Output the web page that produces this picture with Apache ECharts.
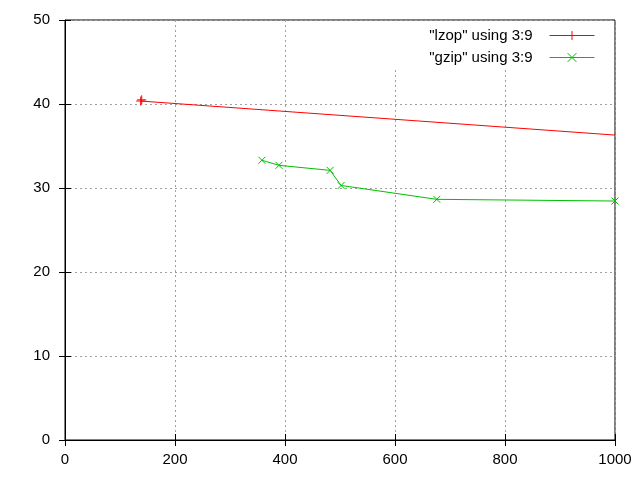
<!DOCTYPE html>
<html>
<head>
<meta charset="utf-8">
<script src="https://cdn.jsdelivr.net/npm/echarts@6/dist/echarts.min.js"></script>
<style>html,body{margin:0;padding:0;background:#fff}#c{width:640px;height:480px}</style>
</head>
<body>
<div id="c"></div>
<script>
const lzopX = [137.6, 139.5, 1000];
const lzopY = [40.35, 40.5, 36.3];
const gzipX = [358, 389, 482, 502, 676, 1000];
const gzipY = [33.3, 32.7, 32.1, 30.3, 28.65, 28.45];
const xTicks = [0, 200, 400, 600, 800, 1000];
const yTicks = [0, 10, 20, 30, 40, 50];
const seriesNames = ['"lzop" using 3:9', '"gzip" using 3:9'];

const plusPath = 'path://M0,5L10,5M5,0L5,10';
const crossPath = 'path://M0,0L10,10M10,0L0,10';
const font = 'Liberation Sans, Arial, sans-serif';

const lzopData = lzopX.map((x, i) => {
  const item = { value: [x, lzopY[i]] };
  if (i === lzopX.length - 1) item.symbol = 'none';
  return item;
});
const gzipData = gzipX.map((x, i) => [x, gzipY[i]]);

const splitLine = { show: true, lineStyle: { color: '#a0a0a0', type: [2, 3], width: 1 } };
const chart = echarts.init(document.getElementById('c'));
chart.setOption({
  animation: false,
  backgroundColor: '#fff',
  grid: { left: 65, right: 25, top: 20, bottom: 40, show: true, borderColor: '#000', borderWidth: 1, backgroundColor: 'transparent' },
  legend: {
    orient: 'vertical', right: 26, top: 21, align: 'right',
    itemWidth: 45, itemHeight: 11, itemGap: 7,
    padding: [7, 19, 4, 37], backgroundColor: '#fff',
    lineStyle: { width: 1 },
    itemStyle: { borderWidth: 1 },
    textStyle: { fontFamily: font, fontSize: 15, color: '#000', padding: [0, 12, 0, 0] },
    data: seriesNames
  },
  xAxis: [{
    type: 'value', min: 0, max: 1000, interval: 200,
    axisLine: { show: true, lineStyle: { color: '#000' } },
    axisTick: { show: true, inside: true, length: 6, lineStyle: { color: '#000' } },
    axisLabel: { fontFamily: font, fontSize: 15, color: '#000', margin: 12,
      formatter: v => xTicks.includes(v) ? String(v) : '' },
    splitLine: splitLine
  }, {
    type: 'value', min: 0, max: 1000, interval: 200, position: 'top', z: 10,
    axisLine: { show: false },
    axisTick: { show: true, inside: true, length: 6, lineStyle: { color: '#000' } },
    axisLabel: { show: false }, splitLine: { show: false }
  }],
  yAxis: [{
    type: 'value', min: 0, max: 50, interval: 10,
    axisLine: { show: true, lineStyle: { color: '#000' } },
    axisTick: { show: true, inside: true, length: 6, lineStyle: { color: '#000' } },
    axisLabel: { fontFamily: font, fontSize: 15, color: '#000', margin: 15,
      formatter: v => yTicks.includes(v) ? String(v) : '' },
    splitLine: splitLine
  }, {
    type: 'value', min: 0, max: 50, interval: 10, position: 'right', z: 10,
    axisLine: { show: false },
    axisTick: { show: true, inside: true, length: 6, lineStyle: { color: '#000' } },
    axisLabel: { show: false }, splitLine: { show: false }
  }],
  series: [{
    name: seriesNames[0], type: 'line', data: lzopData,
    symbol: plusPath, symbolSize: 9, z: 3,
    lineStyle: { color: '#ff0000', width: 1 },
    itemStyle: { color: 'transparent', borderColor: '#ff0000', borderWidth: 1 },
    emphasis: { disabled: true }
  }, {
    name: seriesNames[1], type: 'line', data: gzipData,
    symbol: crossPath, symbolSize: 7, z: 3,
    lineStyle: { color: '#00c000', width: 1 },
    itemStyle: { color: 'transparent', borderColor: '#00c000', borderWidth: 1 },
    emphasis: { disabled: true }
  }]
});
</script>
</body>
</html>
